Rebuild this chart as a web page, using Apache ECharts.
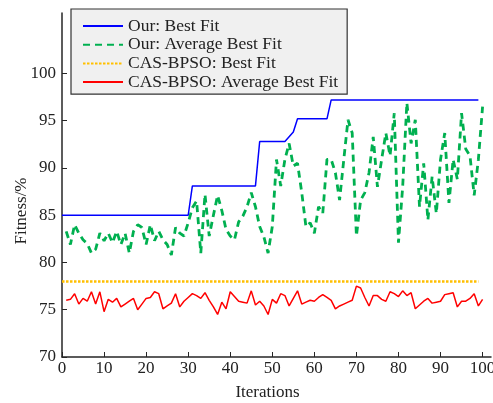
<!DOCTYPE html>
<html>
<head>
<meta charset="utf-8">
<script src="https://cdn.jsdelivr.net/npm/echarts@6/dist/echarts.min.js"></script>
<style>
html,body{margin:0;padding:0;background:#fff;}
#chart{width:493px;height:403px;}
</style>
</head>
<body>
<div id="chart"></div>
<script>
// ---- data ----
const seriesNames = ['Our: Best Fit', 'Our: Average Best Fit', 'CAS-BPSO: Best Fit', 'CAS-BPSO: Average Best Fit'];
const xTickLabels = [0, 10, 20, 30, 40, 50, 60, 70, 80, 90, 100];
const yTickLabels = [70, 75, 80, 85, 90, 95, 100];

// iterations 0..99
const ourBest = [
  85,85,85,85,85,85,85,85,85,85,
  85,85,85,85,85,85,85,85,85,85,
  85,85,85,85,85,85,85,85,85,85,
  85,88.1,88.1,88.1,88.1,88.1,88.1,88.1,88.1,88.1,
  88.1,88.1,88.1,88.1,88.1,88.1,88.1,92.8,92.8,92.8,
  92.8,92.8,92.8,92.8,93.3,93.8,95.2,95.2,95.2,95.2,
  95.2,95.2,95.2,95.2,97.2,97.2,97.2,97.2,97.2,97.2,
  97.2,97.2,97.2,97.2,97.2,97.2,97.2,97.2,97.2,97.2,
  97.2,97.2,97.2,97.2,97.2,97.2,97.2,97.2,97.2,97.2,
  97.2,97.2,97.2,97.2,97.2,97.2,97.2,97.2,97.2,97.2
];
// iterations 1..100
const ourAvg = [
  83.3,81.9,84.0,83.1,82.4,82.0,81.0,81.4,83.1,82.3,
  83.1,82.1,83.3,81.9,83.1,81.0,83.3,84.0,83.7,81.9,
  84.0,82.3,83.3,82.4,81.9,80.8,83.7,83.1,82.8,84.2,
  85.8,86.5,81.0,87.2,82.8,85.0,87.1,85.5,83.5,82.8,
  82.4,84.3,84.9,85.9,87.4,85.9,83.8,82.7,81.0,83.8,
  90.9,88.1,90.9,92.6,90.2,90.5,87.4,83.8,84.2,83.1,
  85.9,85.2,90.9,90.9,89.5,86.6,90.9,95.1,93.7,82.8,
  86.6,87.4,89.5,93.3,88.0,90.9,93.7,91.3,95.8,82.1,
  88.0,96.9,92.6,95.1,85.9,90.5,84.5,89.1,85.2,90.9,
  93.7,86.3,90.9,88.8,95.8,92.0,91.3,87.1,90.9,96.5
];
// iterations 0..99
const casBest = [
  78,78,78,78,78,78,78,78,78,78,
  78,78,78,78,78,78,78,78,78,78,
  78,78,78,78,78,78,78,78,78,78,
  78,78,78,78,78,78,78,78,78,78,
  78,78,78,78,78,78,78,78,78,78,
  78,78,78,78,78,78,78,78,78,78,
  78,78,78,78,78,78,78,78,78,78,
  78,78,78,78,78,78,78,78,78,78,
  78,78,78,78,78,78,78,78,78,78,
  78,78,78,78,78,78,78,78,78,78
];
// iterations 1..100
const casAvg = [
  76.0,76.1,76.7,75.6,76.2,75.9,76.9,75.6,76.9,74.8,
  76.1,75.8,76.2,75.3,75.6,75.9,76.2,75.0,75.6,76.2,
  76.3,76.9,76.7,75.1,75.4,75.7,76.7,75.3,75.9,76.3,
  76.7,76.5,76.2,76.8,76.0,75.3,74.5,75.8,75.1,76.9,
  76.4,75.9,75.8,75.7,77.0,75.5,75.9,75.4,74.5,76.1,
  75.7,76.7,76.5,75.4,76.2,77.0,75.6,75.8,76.0,75.9,
  76.3,76.6,76.3,76.0,75.1,75.4,75.6,75.8,76.0,77.5,
  77.3,76.3,75.4,76.5,76.5,76.1,75.9,76.9,76.7,76.4,
  77.0,76.5,76.8,75.1,75.5,75.9,76.2,75.7,75.8,75.9,
  76.6,76.7,76.8,75.3,75.9,75.9,76.2,76.7,75.4,76.1
];

function pairs(vals, start) {
  const out = [];
  for (let i = 0; i < vals.length; i++) out.push([start + i, vals[i]]);
  return out;
}

const FONT = 'Liberation Serif';
const TXT = '#222';

const chart = echarts.init(document.getElementById('chart'), null, {renderer: 'canvas'});
chart.setOption({
  animation: false,
  backgroundColor: '#fff',
  grid: {left: 62, right: 2, top: 13, bottom: 46, containLabel: false, outerBoundsMode: 'none'},
  legend: {
    orient: 'vertical',
    left: 71,
    top: 9,
    data: seriesNames,
    selectedMode: false,
    itemWidth: 40,
    itemHeight: 12,
    itemGap: 0.7,
    padding: [8, 9, 3, 11],
    backgroundColor: '#f0f0f0',
    borderColor: '#333',
    borderWidth: 1.2,
    borderRadius: 0,
    itemStyle: {opacity: 0},
    textStyle: {fontFamily: FONT, fontSize: 17.5, color: TXT, lineHeight: 18}
  },
  xAxis: {
    type: 'value',
    min: 0,
    max: 102,
    name: 'Iterations',
    nameLocation: 'middle',
    nameGap: 27,
    nameMoveOverlap: false,
    nameTextStyle: {fontFamily: FONT, fontSize: 17, color: TXT, padding: [0, 18, 0, 0]},
    axisLine: {lineStyle: {color: '#262626', width: 1.5}},
    axisTick: {inside: true, length: 5, customValues: xTickLabels, lineStyle: {color: '#262626'}},
    axisLabel: {customValues: xTickLabels, margin: 3, fontFamily: FONT, fontSize: 17, color: TXT},
    splitLine: {show: false}
  },
  yAxis: {
    type: 'value',
    min: 70,
    max: 106.4,
    name: 'Fitness/%',
    nameLocation: 'middle',
    nameGap: 32,
    nameMoveOverlap: false,
    nameTextStyle: {fontFamily: FONT, fontSize: 17, color: TXT, padding: [0, 52, 0, 0]},
    axisLine: {show: true, lineStyle: {color: '#262626', width: 1.5}},
    axisTick: {show: true, inside: true, length: 5, customValues: yTickLabels, lineStyle: {color: '#262626'}},
    axisLabel: {customValues: yTickLabels, margin: 6, fontFamily: FONT, fontSize: 17, color: TXT},
    splitLine: {show: false}
  },
  series: [
    {
      name: seriesNames[0], type: 'line', data: pairs(ourBest, 0),
      symbol: 'none', lineStyle: {color: '#0000FF', width: 1.5}, itemStyle: {color: '#0000FF'}, z: 4
    },
    {
      name: seriesNames[1], type: 'line', data: pairs(ourAvg, 1),
      symbol: 'none', lineStyle: {color: '#00B050', width: 2.8, type: [7, 5]}, itemStyle: {color: '#00B050'}, z: 3
    },
    {
      name: seriesNames[2], type: 'line', data: pairs(casBest, 0),
      symbol: 'none', lineStyle: {color: '#FFBF00', width: 2.5, type: [2.5, 1.5]}, itemStyle: {color: '#FFBF00'}, z: 2
    },
    {
      name: seriesNames[3], type: 'line', data: pairs(casAvg, 1),
      symbol: 'none', lineStyle: {color: '#FF0000', width: 1.5}, itemStyle: {color: '#FF0000'}, z: 2
    }
  ]
});
</script>
</body>
</html>
